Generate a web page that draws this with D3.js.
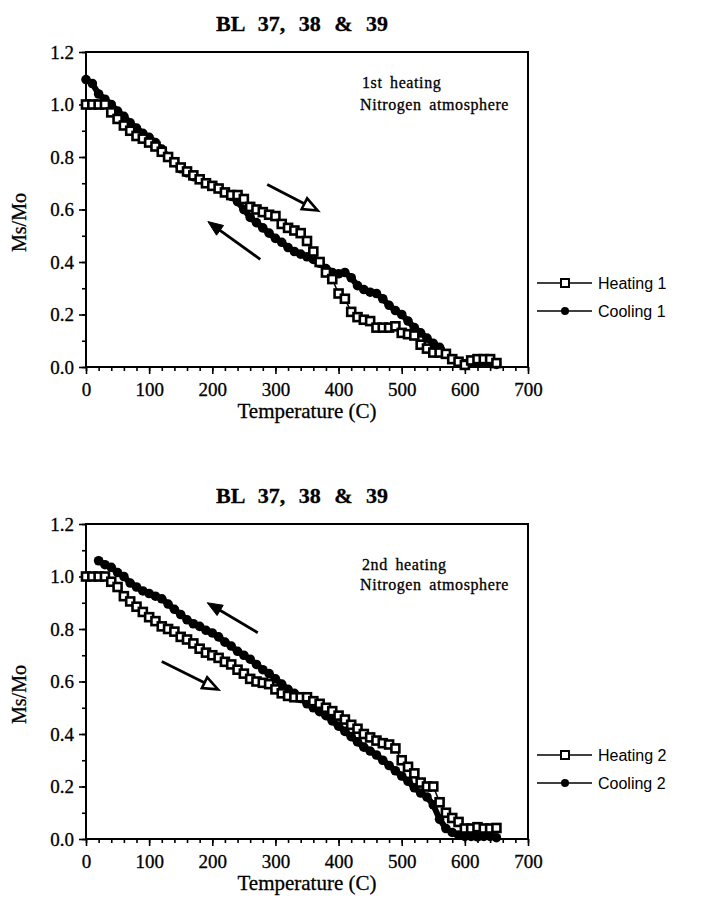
<!DOCTYPE html>
<html>
<head>
<meta charset="utf-8">
<script src="https://cdn.jsdelivr.net/npm/d3@7"></script>
<style>
  body { margin: 0; background: #fff; }
  svg { display: block; }
  .serif { font-family: "Liberation Serif", "Times New Roman", serif; fill: #000; stroke: #000; stroke-width: 0.3px; }
  .legend-text { font-family: "Liberation Sans", Arial, sans-serif; font-size: 16px; fill: #000; }
</style>
</head>
<body>
<div id="chart"></div>
<script>
// ---- data ----
const heatTemps1 = [0,10,20,30,40,50,60,70,80,90,100,110,120,130,140,150,160,170,180,190,200,210,220,230,240,250,260,270,280,290,300,310,320,330,340,350,360,370,380,390,400,410,420,430,440,450,460,470,480,490,500,510,520,530,540,550,560,570,580,590,600,610,620,630,640,650];
const heating1 = [1.0,1.0,1.0,1.0,0.97,0.945,0.92,0.90,0.88,0.87,0.855,0.84,0.82,0.80,0.78,0.76,0.745,0.73,0.715,0.70,0.69,0.68,0.665,0.655,0.655,0.64,0.61,0.60,0.59,0.58,0.575,0.545,0.53,0.52,0.51,0.48,0.44,0.40,0.36,0.335,0.28,0.26,0.21,0.19,0.18,0.175,0.15,0.15,0.15,0.155,0.13,0.125,0.12,0.085,0.07,0.055,0.055,0.05,0.03,0.02,0.008,0.025,0.03,0.03,0.03,0.015];

const coolTemps1 = [0,10,20,30,40,50,60,70,80,90,100,110,120,130,140,150,160,170,180,190,200,210,220,230,240,250,260,270,280,290,300,310,320,330,340,350,360,370,380,390,400,410,420,430,440,450,460,470,480,490,500,510,520,530,540,550,560,570,580,590,600,610,620,630,640,650];
const cooling1 = [1.095,1.08,1.04,1.02,1.0,0.975,0.955,0.93,0.91,0.89,0.875,0.855,0.83,0.80,0.78,0.755,0.74,0.725,0.715,0.70,0.69,0.68,0.665,0.65,0.63,0.60,0.57,0.55,0.53,0.51,0.49,0.475,0.455,0.44,0.43,0.42,0.41,0.395,0.375,0.36,0.355,0.36,0.34,0.31,0.295,0.285,0.28,0.26,0.235,0.215,0.20,0.175,0.15,0.13,0.11,0.09,0.075,0.05,0.03,0.02,0.012,0.02,0.015,0.02,0.02,0.01];

const heatTemps2 = [0,10,20,30,40,50,60,70,80,90,100,110,120,130,140,150,160,170,180,190,200,210,220,230,240,250,260,270,280,290,300,310,320,330,340,350,360,370,380,390,400,410,420,430,440,450,460,470,480,490,500,510,520,530,540,550,560,570,580,590,600,610,620,630,640,650];
const heating2 = [1.0,1.0,1.0,1.0,0.98,0.96,0.925,0.905,0.885,0.865,0.845,0.83,0.81,0.80,0.79,0.77,0.76,0.745,0.725,0.71,0.70,0.69,0.675,0.665,0.645,0.63,0.61,0.60,0.595,0.59,0.57,0.555,0.545,0.54,0.54,0.54,0.525,0.515,0.50,0.487,0.47,0.455,0.435,0.42,0.40,0.387,0.375,0.365,0.36,0.345,0.30,0.275,0.25,0.215,0.20,0.20,0.14,0.10,0.08,0.065,0.04,0.04,0.045,0.04,0.04,0.042];

const coolTemps2 = [20,30,40,50,60,70,80,90,100,110,120,130,140,150,160,170,180,190,200,210,220,230,240,250,260,270,280,290,300,310,320,330,340,350,360,370,380,390,400,410,420,430,440,450,460,470,480,490,500,510,520,530,540,550,560,570,580,590,600,610,620,630,640,650];
const cooling2 = [1.06,1.045,1.035,1.015,1.0,0.975,0.96,0.945,0.935,0.925,0.915,0.895,0.875,0.855,0.835,0.82,0.81,0.795,0.785,0.77,0.75,0.735,0.715,0.70,0.685,0.665,0.645,0.63,0.61,0.59,0.57,0.555,0.535,0.515,0.50,0.485,0.47,0.45,0.43,0.41,0.39,0.37,0.35,0.335,0.32,0.30,0.28,0.26,0.24,0.22,0.195,0.175,0.16,0.13,0.075,0.04,0.025,0.015,0.01,0.01,0.008,0.01,0.01,0.005];

const xTickLabels = [0,100,200,300,400,500,600,700];
const yTickLabels = [0.0,0.2,0.4,0.6,0.8,1.0,1.2];
const titles = ["BL 37, 38 & 39", "BL 37, 38 & 39"];
const notes1 = ["1st heating", "Nitrogen atmosphere"];
const notes2 = ["2nd heating", "Nitrogen atmosphere"];
const legend1 = ["Heating 1", "Cooling 1"];
const legend2 = ["Heating 2", "Cooling 2"];
// arrows in data units: [T start, M start, T end, M end, open head?]
const arrows1 = [[287,0.695,367,0.596,true],[276,0.41,193,0.554,false]];
const arrows2 = [[272,0.786,192,0.90,false],[120,0.676,209,0.57,true]];

var svg = d3.select('#chart').append('svg')
  .attr('width', 726)
  .attr('height', 899);

function drawPanel(top, title, notes, noteY, legendLabels, heatT, heatV, coolT, coolV, arrows) {
  const margin = { left: 86, top: top };
  const width = 442, height = 315;
  var g = svg.append('g')
    .attr('transform', 'translate(' + margin.left + ',' + margin.top + ')');

  const xScale = d3.scaleLinear().domain([0, 700]).range([0, width]);
  const yScale = d3.scaleLinear().domain([0, 1.2]).range([height, 0]);

  // title
  svg.append('text')
    .attr('class', 'serif')
    .attr('x', 302)
    .attr('y', top - 21)
    .attr('text-anchor', 'middle')
    .style('font-size', '22px')
    .style('font-weight', 'bold')
    .style('word-spacing', '8px')
    .text(title);

  // minor ticks
  g.append('g')
    .attr('transform', `translate(0, ${height})`)
    .call(d3.axisBottom(xScale).tickValues(d3.range(0, 701, 20)).tickSize(4).tickFormat(''))
    .call(a => a.select('.domain').remove());
  g.append('g')
    .call(d3.axisLeft(yScale).tickValues(d3.range(0, 1.21, 0.1)).tickSize(4).tickFormat(''))
    .call(a => a.select('.domain').remove());

  // major ticks + labels
  const xAxisG = g.append('g')
    .attr('transform', `translate(0, ${height})`)
    .call(d3.axisBottom(xScale).tickValues(xTickLabels).tickSize(7).tickPadding(9).tickFormat(d3.format('d')));
  const yAxisG = g.append('g')
    .call(d3.axisLeft(yScale).tickValues(yTickLabels).tickSize(7).tickPadding(5).tickFormat(d3.format('.1f')));
  [xAxisG, yAxisG].forEach(function(a) {
    a.select('.domain').remove();
    a.selectAll('text').attr('class', 'serif').attr('fill', '#000').style('font-size', '19px');
  });
  g.selectAll('.tick line').attr('stroke', '#000').attr('stroke-width', 1.6);

  // frame
  g.append('rect')
    .attr('x', 0).attr('y', 0)
    .attr('width', width).attr('height', height)
    .attr('fill', 'none')
    .attr('stroke', '#000')
    .attr('stroke-width', 2);

  // axis labels
  svg.append('text')
    .attr('class', 'serif')
    .attr('x', margin.left + width / 2)
    .attr('y', top + height + 51)
    .attr('text-anchor', 'middle')
    .style('font-size', '21px')
    .text('Temperature (C)');
  svg.append('text')
    .attr('class', 'serif')
    .attr('transform', `translate(26, ${top + height / 2 + 13}) rotate(-90)`)
    .attr('text-anchor', 'middle')
    .style('font-size', '20px')
    .text('Ms/Mo');

  // notes
  notes.forEach(function(n, i) {
    svg.append('text')
      .attr('class', 'serif')
      .attr('x', i === 0 ? 362 : 360).attr('y', noteY[i])
      .style('font-size', '16px')
      .style('letter-spacing', '0.6px')
      .style('word-spacing', '3px')
      .text(n);
  });

  // series
  const heatData = heatT.map((t, i) => ({ x: t, y: heatV[i] }));
  const coolData = coolT.map((t, i) => ({ x: t, y: coolV[i] }));
  const line = d3.line().x(d => xScale(d.x)).y(d => yScale(d.y));

  g.append('path').datum(coolData)
    .attr('d', line).attr('fill', 'none').attr('stroke', '#000').attr('stroke-width', 6)
    .attr('stroke-linejoin', 'round');
  g.append('path').datum(heatData)
    .attr('d', line).attr('fill', 'none').attr('stroke', '#000').attr('stroke-width', 1.5);

  g.append('g').selectAll('circle')
    .data(coolData)
    .enter().append('circle')
    .attr('cx', d => xScale(d.x))
    .attr('cy', d => yScale(d.y))
    .attr('r', 4.8)
    .attr('fill', '#000');

  g.append('g').selectAll('rect')
    .data(heatData)
    .enter().append('rect')
    .attr('x', d => xScale(d.x) - 4)
    .attr('y', d => yScale(d.y) - 4)
    .attr('width', 8).attr('height', 8)
    .attr('fill', '#fff')
    .attr('stroke', '#000')
    .attr('stroke-width', 2.6);

  // arrows
  arrows.forEach(function(a) {
    var x1 = xScale(a[0]), y1 = yScale(a[1]), x2 = xScale(a[2]), y2 = yScale(a[3]);
    var ang = Math.atan2(y2 - y1, x2 - x1);
    var len = 15, half = 6;
    var bx = x2 - len * Math.cos(ang), by = y2 - len * Math.sin(ang);
    var px = -Math.sin(ang) * half, py = Math.cos(ang) * half;
    g.append('line')
      .attr('x1', x1).attr('y1', y1)
      .attr('x2', a[4] ? bx : x2 - 6 * Math.cos(ang)).attr('y2', a[4] ? by : y2 - 6 * Math.sin(ang))
      .attr('stroke', '#000').attr('stroke-width', 2.8);
    g.append('path')
      .attr('d', `M${x2},${y2}L${bx + px},${by + py}L${bx - px},${by - py}Z`)
      .attr('fill', a[4] ? '#fff' : '#000')
      .attr('stroke', '#000')
      .attr('stroke-width', a[4] ? 2.6 : 1)
      .attr('stroke-linejoin', 'miter');
  });

  // legend
  var legY = [top + 231, top + 259];
  var lg = svg.append('g');
  legY.forEach(function(ly, i) {
    lg.append('line')
      .attr('x1', 537).attr('x2', 592)
      .attr('y1', ly).attr('y2', ly)
      .attr('stroke', '#000').attr('stroke-width', 1.6);
    if (i === 0) {
      lg.append('rect')
        .attr('x', 561).attr('y', ly - 4)
        .attr('width', 8).attr('height', 8)
        .attr('fill', '#fff').attr('stroke', '#000').attr('stroke-width', 2);
    } else {
      lg.append('circle')
        .attr('cx', 565).attr('cy', ly).attr('r', 4)
        .attr('fill', '#000');
    }
    lg.append('text')
      .attr('class', 'legend-text')
      .attr('x', 598).attr('y', ly + 6)
      .text(legendLabels[i]);
  });
}

drawPanel(52, titles[0], notes1, [88, 110], legend1, heatTemps1, heating1, coolTemps1, cooling1, arrows1);
drawPanel(524, titles[1], notes2, [570, 590], legend2, heatTemps2, heating2, coolTemps2, cooling2, arrows2);
</script>
</body>
</html>
